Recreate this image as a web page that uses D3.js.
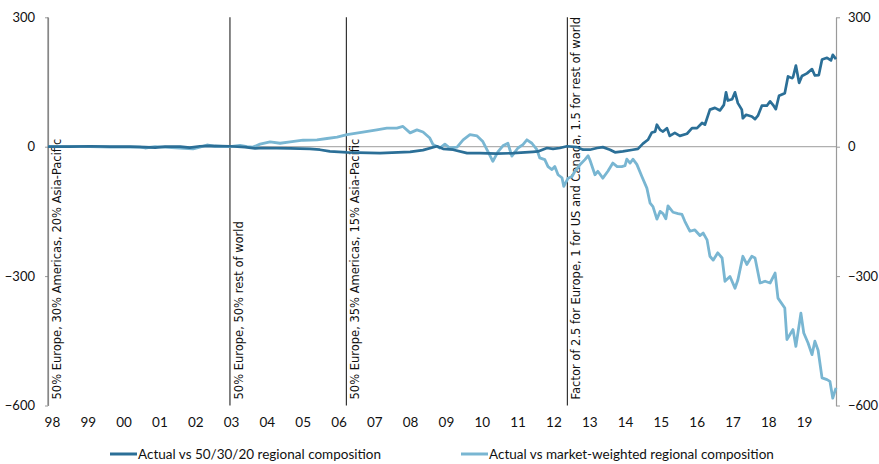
<!DOCTYPE html>
<html><head><meta charset="utf-8">
<script src="https://cdn.jsdelivr.net/npm/d3@7/dist/d3.min.js"></script>
<style>body{margin:0;background:#fff}svg{display:block}</style>
</head><body><svg id="c" width="879" height="464"></svg>
<script>
// ---- data ----
const darkYears=[1998.00,1998.61,1999.17,1999.73,2000.29,2000.71,2000.99,2001.27,2001.69,2001.96,2002.24,2002.52,2003.08,2003.50,2003.78,2004.00,2004.76,2005.31,2005.59,2005.87,2006.35,2007.27,2008.11,2008.47,2008.86,2009.03,2009.31,2009.70,2010.06,2010.53,2010.98,2011.54,2011.68,2011.93,2012.10,2012.29,2012.49,2012.77,2012.94,2013.13,2013.33,2013.49,2013.69,2013.83,2014.05,2014.33,2014.47,2014.61,2014.75,2014.86,2014.95,2015.00,2015.09,2015.17,2015.28,2015.36,2015.50,2015.64,2015.84,2015.98,2016.12,2016.26,2016.34,2016.48,2016.62,2016.76,2016.87,2016.93,2016.98,2017.10,2017.18,2017.26,2017.37,2017.40,2017.49,2017.65,2017.74,2017.82,2017.93,2018.07,2018.16,2018.24,2018.32,2018.41,2018.57,2018.66,2018.77,2018.80,2018.88,2018.97,2019.05,2019.19,2019.33,2019.41,2019.52,2019.61,2019.75,2019.86,2019.91,2020.00];
const darkValues=[0,0,1,0,0,-1,-2,0,0,-2,1,2,1,-1,-4,-3,-4,-5,-7,-11,-13,-15,-12,-8,1,-5,-7,-15,-15,-16,-15,-12,-11,-3,-5,-3,1,-1,-7,-7,-3,-1,-7,-13,-11,-7,-5,7,16,33,35,51,39,35,43,25,32,25,30,43,43,55,51,86,90,84,97,126,107,110,126,101,86,66,74,70,64,72,95,95,105,97,87,118,124,163,159,161,188,148,164,170,180,165,166,202,206,200,213,203];
const lightYears=[1998.00,1998.61,1999.17,1999.73,2000.15,2000.57,2000.71,2000.99,2001.46,2001.69,2002.05,2002.24,2002.44,2002.66,2003.08,2003.36,2003.56,2003.72,2003.92,2004.20,2004.48,2004.76,2005.12,2005.51,2005.79,2006.07,2006.35,2006.79,2007.18,2007.46,2007.74,2007.91,2008.11,2008.30,2008.47,2008.66,2008.75,2008.94,2009.08,2009.22,2009.42,2009.59,2009.78,2009.98,2010.14,2010.28,2010.42,2010.56,2010.70,2010.84,2010.95,2011.12,2011.26,2011.37,2011.51,2011.65,2011.73,2011.87,2011.96,2012.07,2012.15,2012.24,2012.35,2012.40,2012.52,2012.63,2012.71,2012.85,2012.99,2013.08,2013.13,2013.27,2013.35,2013.49,2013.63,2013.77,2013.89,2014.02,2014.11,2014.16,2014.25,2014.33,2014.44,2014.58,2014.72,2014.81,2014.89,2015.00,2015.09,2015.17,2015.25,2015.31,2015.45,2015.59,2015.70,2015.78,2015.92,2016.06,2016.20,2016.29,2016.40,2016.48,2016.57,2016.70,2016.82,2016.90,2017.04,2017.18,2017.26,2017.40,2017.51,2017.65,2017.74,2017.88,2018.02,2018.16,2018.30,2018.38,2018.57,2018.63,2018.80,2018.88,2019.02,2019.10,2019.22,2019.33,2019.41,2019.50,2019.61,2019.75,2019.83,2019.91,2020.00];
const lightValues=[0,0,0,-1,-1,-1,-3,0,-2,-3,-5,-1,4,1,0,3,0,-1,6,11,8,11,15,16,19,22,28,34,39,43,43,47,32,39,34,20,5,-3,6,-3,-1,16,28,25,12,-11,-34,-12,2,8,-22,-3,5,16,8,-7,-26,-30,-46,-53,-46,-65,-72,-92,-73,-69,-57,-42,-30,-21,-31,-65,-57,-73,-57,-38,-46,-46,-44,-29,-38,-29,-41,-69,-96,-131,-139,-168,-150,-155,-167,-137,-152,-155,-157,-173,-196,-193,-206,-200,-216,-254,-263,-246,-258,-312,-301,-328,-309,-254,-273,-254,-258,-316,-312,-316,-293,-351,-374,-447,-424,-463,-386,-432,-455,-482,-451,-472,-536,-540,-544,-583,-559];
const seriesNames=["Actual vs 50/30/20 regional composition","Actual vs market-weighted regional composition"];
const yTickValues=[300,0,-300,-600];
const xTickYears=[1998,1999,2000,2001,2002,2003,2004,2005,2006,2007,2008,2009,2010,2011,2012,2013,2014,2015,2016,2017,2018,2019];
const xTickLabels=["98","99","00","01","02","03","04","05","06","07","08","09","10","11","12","13","14","15","16","17","18","19"];
const regimeYears=[1998.0,2003.08,2006.33,2012.5];
const regimeLabels=["50% Europe, 30% Americas, 20% Asia-Pacific","50% Europe, 50% rest of world","50% Europe, 35% Americas, 15% Asia-Pacific","Factor of 2.5 for Europe, 1 for US and Canada, 1.5 for rest of world"];

// ---- style ----
const DARK="#2b6f97", LIGHT="#79b6d2";
const FONT="Lato, 'Open Sans', sans-serif";
const svg=d3.select("#c");
const L=48,R=836,T=17.3,B=405.5;
const x=d3.scaleLinear().domain([1998,2020]).range([L,R]);
const y=d3.scaleLinear().domain([-600,300]).range([B,T]);

// zero line
svg.append("line").attr("x1",L).attr("x2",R).attr("y1",y(0)).attr("y2",y(0))
  .attr("stroke","#b0b0b0").attr("stroke-width",1.2);

// axes
function styleAxis(g){
  g.select(".domain").attr("stroke","#9a9a9a").attr("stroke-width",1.2);
  g.selectAll(".tick line").attr("stroke","#9a9a9a");
  g.selectAll("text").attr("font-family",FONT).attr("font-size",13).attr("fill","#111");
}
svg.append("g").attr("transform",`translate(${L},0)`)
  .call(d3.axisLeft(y).tickValues(yTickValues).tickSize(3).tickSizeOuter(0).tickPadding(10))
  .call(styleAxis);
svg.append("g").attr("transform",`translate(${R},0)`)
  .call(d3.axisRight(y).tickValues(yTickValues).tickSize(4).tickSizeOuter(0).tickPadding(8))
  .call(styleAxis);
const xg=svg.append("g").attr("transform",`translate(0,${B})`)
  .call(d3.axisBottom(x).tickValues(xTickYears.map(v=>v+0.11)).tickSize(0).tickPadding(12)
    .tickFormat((d,i)=>xTickLabels[i]));
xg.select(".domain").remove();
xg.selectAll("text").attr("font-family",FONT).attr("font-size",13.5).attr("fill","#111");

// regime lines + labels
regimeYears.forEach((yr,i)=>{
  const px=x(yr);
  svg.append("line").attr("x1",px).attr("x2",px).attr("y1",T).attr("y2",B)
    .attr("stroke",i===0?"#777":"#222").attr("stroke-width",1.1);
  svg.append("text").attr("transform",`translate(${px+13},${B-6}) rotate(-90)`)
    .attr("font-family","'DejaVu Sans', sans-serif").attr("font-size",11.5).attr("fill","#111")
    .text(regimeLabels[i]);
});

// lines
const line=d3.line().x(d=>x(d[0])).y(d=>y(d[1]));
svg.append("path").datum(lightYears.map((t,i)=>[t,lightValues[i]]))
  .attr("d",line).attr("fill","none").attr("stroke",LIGHT).attr("stroke-width",2.8).attr("stroke-linejoin","round");
svg.append("path").datum(darkYears.map((t,i)=>[t,darkValues[i]]))
  .attr("d",line).attr("fill","none").attr("stroke",DARK).attr("stroke-width",2.7).attr("stroke-linejoin","round");

// legend
const legX=[110,461], colors=[DARK,LIGHT];
seriesNames.forEach((n,i)=>{
  svg.append("line").attr("x1",legX[i]).attr("x2",legX[i]+27).attr("y1",454).attr("y2",454)
    .attr("stroke",colors[i]).attr("stroke-width",3);
  svg.append("text").attr("x",legX[i]+28).attr("y",458.5).attr("font-family",FONT)
    .attr("font-size",13.5).attr("fill","#111").text(n);
});
</script></body></html>
